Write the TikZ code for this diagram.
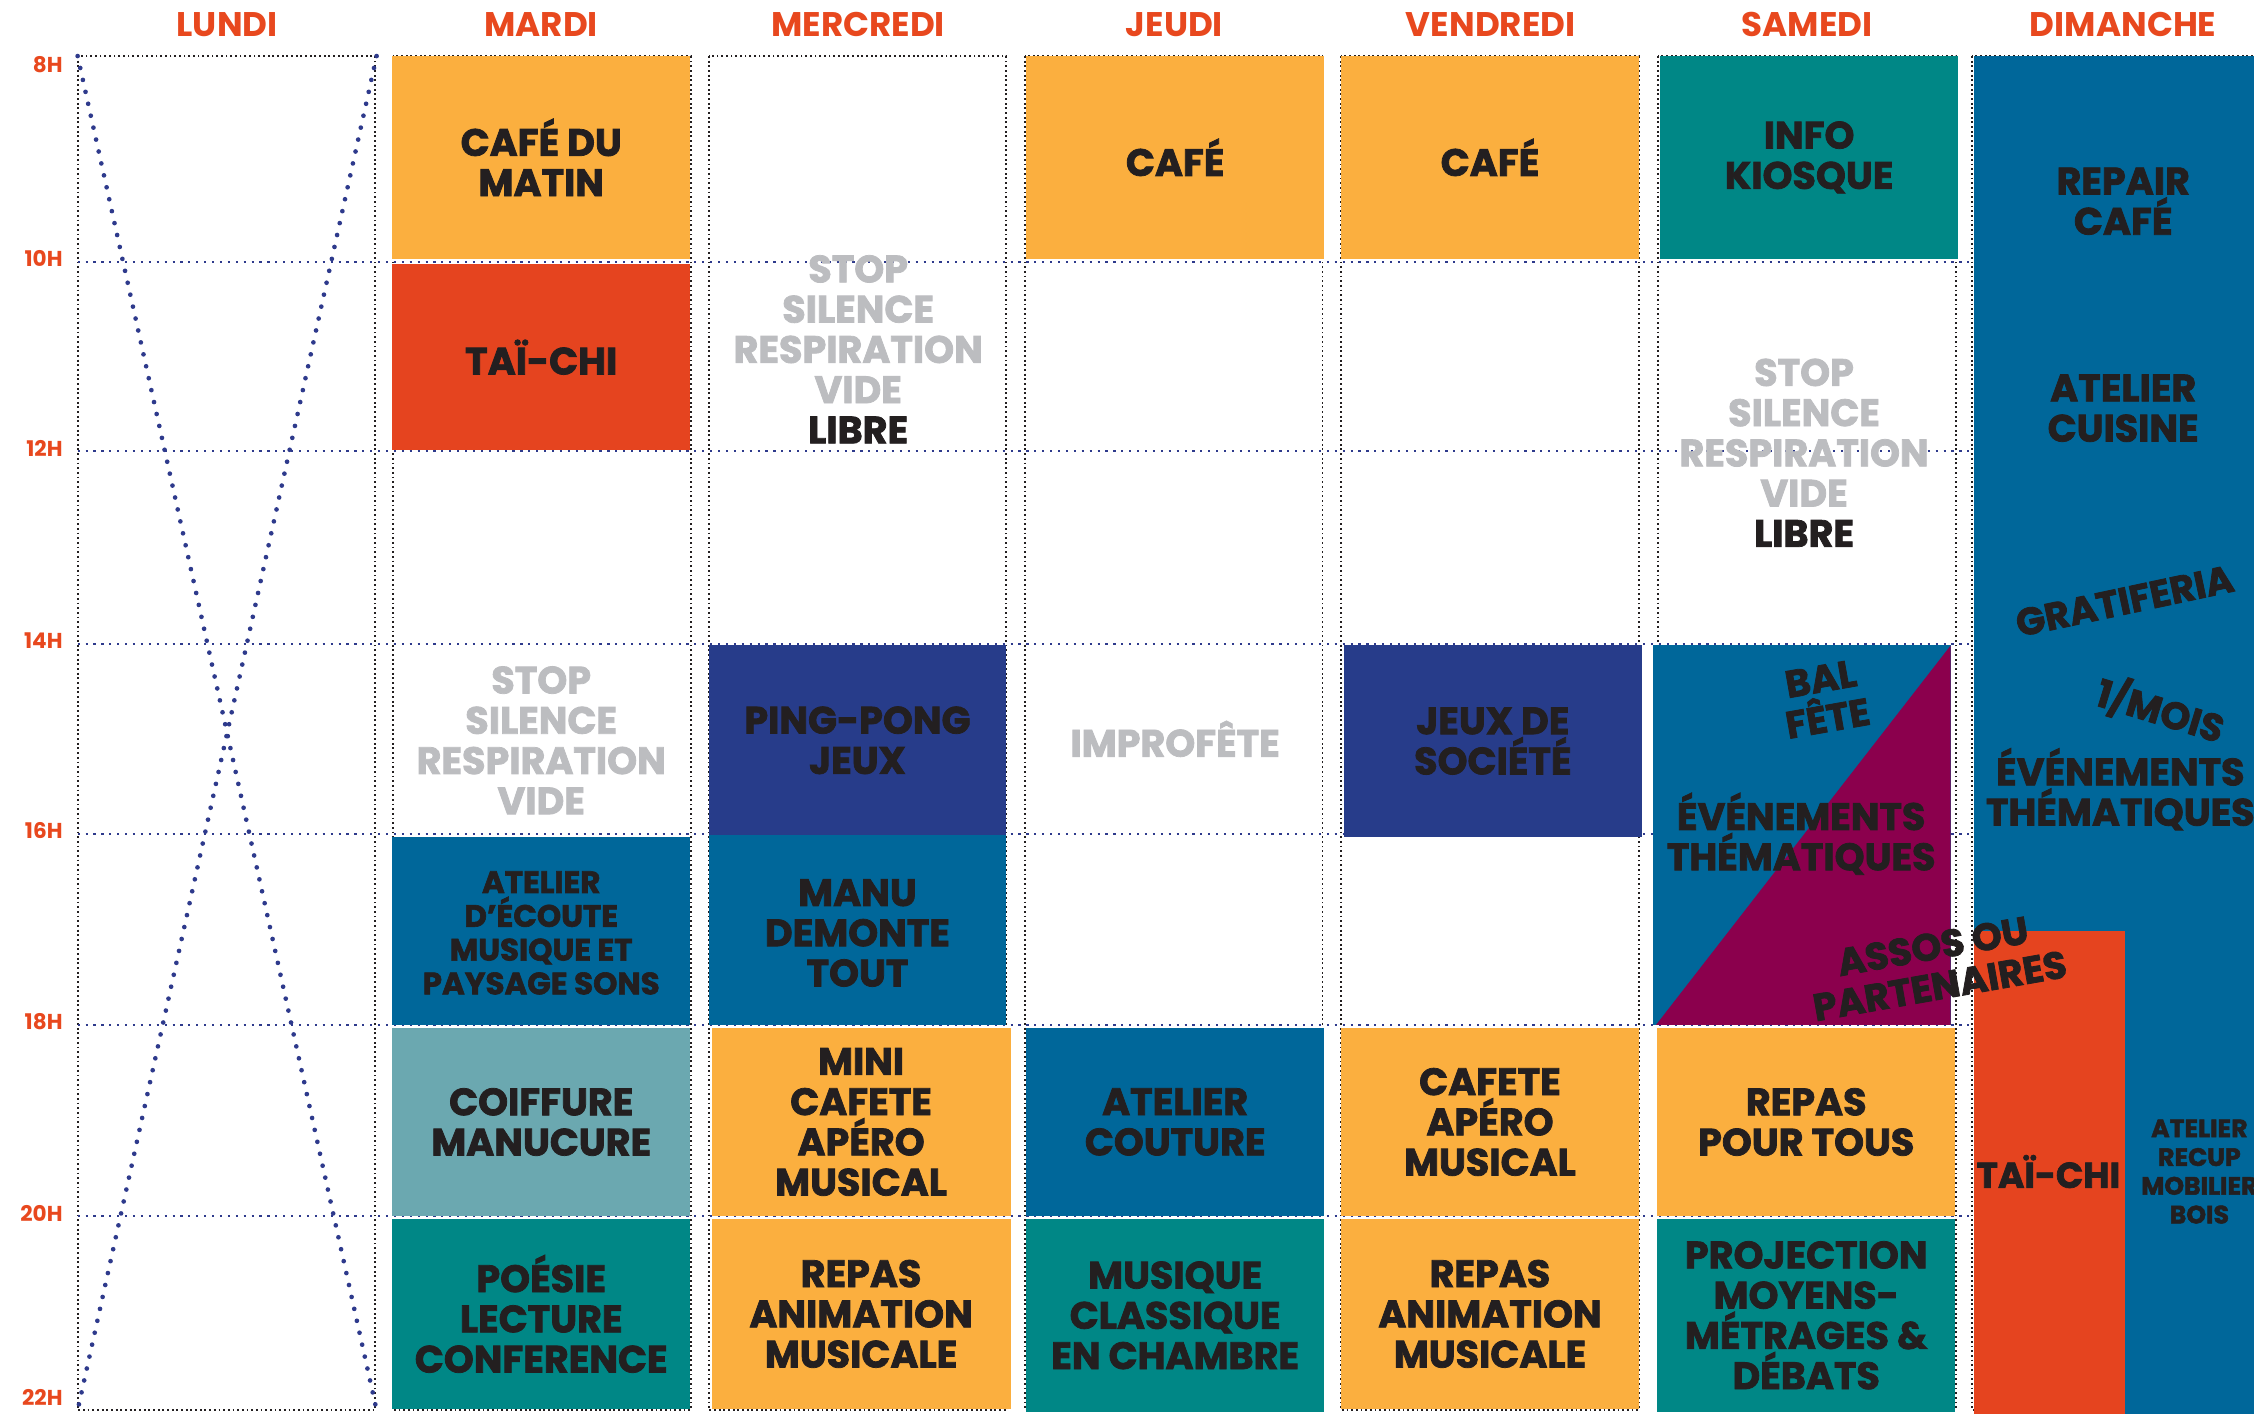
\documentclass[tikz,border=0pt]{standalone}
\usepackage{fontspec}
\setmainfont{Poppins}
\newfontfamily\gras{Poppins}[BoldFeatures={FakeBold=2}]
\definecolor{jaune}{HTML}{FBAF3F}
\definecolor{rouge}{HTML}{E5441F}
\definecolor{bleu}{HTML}{00679A}
\definecolor{canard}{HTML}{008786}
\definecolor{marine}{HTML}{273C8A}
\definecolor{turquoise}{HTML}{6BA8B0}
\definecolor{prune}{HTML}{8B004D}
\definecolor{argent}{HTML}{BCBDC0}
\definecolor{encre}{HTML}{231F20}
\definecolor{titre}{HTML}{E8481E}
\definecolor{pointille}{HTML}{2E3A8C}

\begin{document}
\begin{tikzpicture}[x=0.4pt, y=-0.4pt,
  day/.style = {text=titre, font=\bfseries\fontsize{9.5}{11}\selectfont},
  hour/.style = {text=titre, anchor=east, inner sep=0pt, font=\bfseries\fontsize{6}{7}\selectfont},
  lbl/.style = {text=encre, align=center, inner sep=0pt, font=\gras\bfseries\fontsize{10.6}{11.2}\selectfont},
  pale/.style = {lbl, text=argent},
  petit/.style = {lbl, font=\gras\bfseries\fontsize{8.6}{9.4}\selectfont},
  mini/.style = {lbl, font=\gras\bfseries\fontsize{7}{8}\selectfont},
  cadre/.style = {encre, line width=0.5pt, dash pattern=on 0.5pt off 0.8pt},
  heure/.style = {pointille, line width=0.6pt, dash pattern=on 0.6pt off 1.6pt},
  croix/.style = {pointille, line width=1.3pt, dash pattern=on 0pt off 3.4pt, line cap=round}]
\useasboundingbox (0,0) rectangle (1568,983.6);
\fill[white] (0,0) rectangle (1568,983.6);
\clip (0,0) rectangle (1568,983.6);

% jours et heures
\foreach \j/\x in {LUNDI/158, MARDI/376.5, MERCREDI/597, JEUDI/817, VENDREDI/1037, SAMEDI/1257, DIMANCHE/1477}
  \node[day] (\j) at (\x,17) {\j};
\foreach \h/\y in {8/45, 10/180, 12/312, 14/446, 16/578, 18/711, 20/844, 22/972}
  \node[hour] (h\h) at (44,\y) {\h H};

% grille
\foreach \x in {54, 273.5, 493, 713, 933, 1153.5, 1372}
  \draw[cadre] (\x,39) rectangle ++(207,942);
\foreach \y in {182, 314, 448, 580, 713, 846}
  \draw[heure] (54,\y) -- (1372,\y);

% lundi
\coordinate (lunNO) at (54,39);
\coordinate (lunNE) at (262,39);
\coordinate (lunSO) at (54,981);
\coordinate (lunSE) at (262,981);
\draw[croix] (lunNO) -- (lunSE);
\draw[croix] (lunNE) -- (lunSO);

% mardi
\fill[jaune] (273,39) rectangle (480,180);
\node[lbl] (marCafe) at (376.5,109.5) {CAFÉ DU\\MATIN};
\fill[rouge] (273,184) rectangle (480,313);
\node[lbl] (marTai) at (376.5,248.5) {TAÏ-CHI};
\node[pale] (marStop) at (376.5,515) {STOP\\SILENCE\\RESPIRATION\\VIDE};
\fill[bleu] (273,582) rectangle (480,713);
\node[petit] (marEcoute) at (376.5,649) {ATELIER\\D’ÉCOUTE\\MUSIQUE ET\\PAYSAGE SONS};
\fill[turquoise] (273,715) rectangle (480,846);
\node[lbl] (marCoiffure) at (376.5,780.5) {COIFFURE\\MANUCURE};
\fill[canard] (273,848) rectangle (480,980);
\node[lbl] (marPoesie) at (376.5,914) {POÉSIE\\LECTURE\\CONFERENCE};

% mercredi
\node[pale] (merStop) at (597,243) {STOP\\SILENCE\\RESPIRATION\\VIDE\\\textcolor{encre}{LIBRE}};
\fill[marine] (493,449) rectangle (700,581);
\node[lbl] (merPing) at (596.5,515) {PING-PONG\\JEUX};
\fill[bleu] (493,581) rectangle (700,713);
\node[lbl] (merManu) at (596.5,649) {MANU\\DEMONTE\\TOUT};
\fill[jaune] (495,715) rectangle (703,846);
\node[lbl] (merMini) at (599,780.5) {MINI\\CAFETE\\APÉRO\\MUSICAL};
\fill[jaune] (495,848) rectangle (703,980);
\node[lbl] (merRepas) at (599,914) {REPAS\\ANIMATION\\MUSICALE};

% jeudi
\fill[jaune] (714,39) rectangle (921,180);
\node[lbl] (jeuCafe) at (817.5,109.5) {CAFÉ};
\node[pale] (jeuImpro) at (817.5,514) {IMPROFÊTE};
\fill[bleu] (714,715) rectangle (921,846);
\node[lbl] (jeuCouture) at (817.5,780.5) {ATELIER\\COUTURE};
\fill[canard] (714,848) rectangle (921,982);
\node[lbl] (jeuMusique) at (817.5,915) {MUSIQUE\\CLASSIQUE\\EN CHAMBRE};

% vendredi
\fill[jaune] (933,39) rectangle (1140,180);
\node[lbl] (venCafe) at (1036.5,109.5) {CAFÉ};
\fill[marine] (935,449) rectangle (1142,582);
\node[lbl] (venJeux) at (1038.5,515.5) {JEUX DE\\SOCIÉTÉ};
\fill[jaune] (933,715) rectangle (1140,846);
\node[lbl] (venCafete) at (1036.5,780.5) {CAFETE\\APÉRO\\MUSICAL};
\fill[jaune] (933,848) rectangle (1140,980);
\node[lbl] (venRepas) at (1036.5,914) {REPAS\\ANIMATION\\MUSICALE};

% samedi
\fill[canard] (1155,39) rectangle (1362,180);
\node[lbl] (samInfo) at (1258.5,109.5) {INFO\\KIOSQUE};
\node[pale] (samStop) at (1255,315) {STOP\\SILENCE\\RESPIRATION\\VIDE\\\textcolor{encre}{LIBRE}};
\fill[bleu] (1150,449) rectangle (1357,713);
\fill[prune] (1152,713) -- (1357,449) -- (1357,713) -- cycle;
\fill[jaune] (1153,715) rectangle (1360,846);
\node[lbl] (samRepas) at (1256.5,780.5) {REPAS\\POUR TOUS};
\fill[canard] (1153,848) rectangle (1360,982);
\node[lbl] (samProj) at (1256.5,915) {PROJECTION\\MOYENS-\\MÉTRAGES \&\\DÉBATS};

% dimanche
\fill[bleu] (1373,39) rectangle (1580,983.6);
\fill[rouge] (1373,648) rectangle (1478,983.6);
\node[lbl] (dimRepair) at (1477,140) {REPAIR\\CAFÉ};
\node[lbl] (dimCuisine) at (1477,284) {ATELIER\\CUISINE};
\node[lbl, rotate=12] (dimGrati) at (1478,418) {GRATIFERIA};
\node[lbl, rotate=-17] (dimMois) at (1503,494) {1/MOIS};
\node[lbl] (dimEvents) at (1475,549) {ÉVÉNEMENTS\\THÉMATIQUES};
\node[lbl, font=\gras\bfseries\fontsize{10}{11}\selectfont] (dimTai) at (1425,815) {TAÏ-CHI};
\node[mini] (dimRecup) at (1530,815) {ATELIER\\RECUP\\MOBILIER\\BOIS};

% textes du samedi par-dessus
\node[lbl, rotate=10] (samBal) at (1269,486) {BAL\\FÊTE};
\node[lbl] (samEvents) at (1253,580) {ÉVÉNEMENTS\\THÉMATIQUES};
\node[lbl, rotate=10] (samAssos) at (1347,672) {ASSOS OU\\PARTENAIRES};
\end{tikzpicture}
\end{document}
